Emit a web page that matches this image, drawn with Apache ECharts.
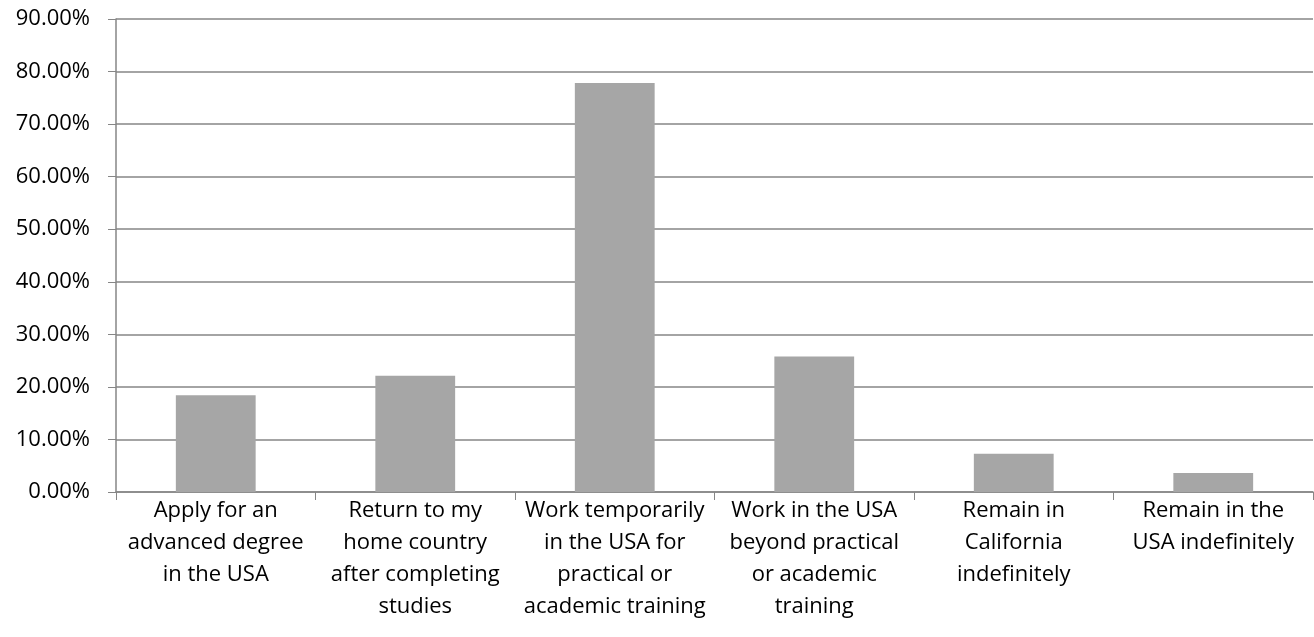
<!DOCTYPE html>
<html>
<head>
<meta charset="utf-8">
<script src="https://cdn.jsdelivr.net/npm/echarts@6/dist/echarts.min.js"></script>
<style>
  html, body { margin: 0; padding: 0; background: #fff; }
  #chart { width: 1314px; height: 637px; }
</style>
</head>
<body>
<div id="chart"></div>
<script>
// plans after graduation, share of respondents (%)
const categories = [
  "Apply for an\nadvanced degree\nin the USA",
  "Return to my\nhome country\nafter completing\nstudies",
  "Work temporarily\nin the USA for\npractical or\nacademic training",
  "Work in the USA\nbeyond practical\nor academic\ntraining",
  "Remain in\nCalifornia\nindefinitely",
  "Remain in the\nUSA indefinitely"
];
const shares = [18.4, 22.1, 77.8, 25.8, 7.3, 3.6];
const yTicks = { min: 0, max: 90, step: 10 };

const axisGray = "#868686";
const font = "'Open Sans', sans-serif";

const chart = echarts.init(document.getElementById("chart"));
chart.setOption({
  animation: false,
  grid: { left: 116, right: 1, top: 19, bottom: 145 },
  xAxis: {
    type: "category",
    data: categories,
    axisLine: { lineStyle: { color: axisGray, width: 1.5 } },
    axisTick: { show: true, length: 8, lineStyle: { color: axisGray } },
    axisLabel: {
      interval: 0,
      margin: 3,
      color: "#000",
      fontFamily: font,
      fontSize: 22,
      lineHeight: 32,
      align: "center"
    }
  },
  yAxis: {
    type: "value",
    min: yTicks.min,
    max: yTicks.max,
    interval: yTicks.step,
    axisLine: { show: true, lineStyle: { color: axisGray, width: 1.5 } },
    axisTick: { show: true, length: 8, lineStyle: { color: axisGray } },
    splitLine: { lineStyle: { color: axisGray, width: 1.5 } },
    axisLabel: {
      margin: 26,
      color: "#000",
      fontFamily: font,
      fontSize: 22,
      formatter: (v) => v.toFixed(2) + "%"
    }
  },
  series: [
    {
      type: "bar",
      data: shares,
      barWidth: "40%",
      itemStyle: { color: "#a6a6a6" }
    }
  ]
});
</script>
</body>
</html>
